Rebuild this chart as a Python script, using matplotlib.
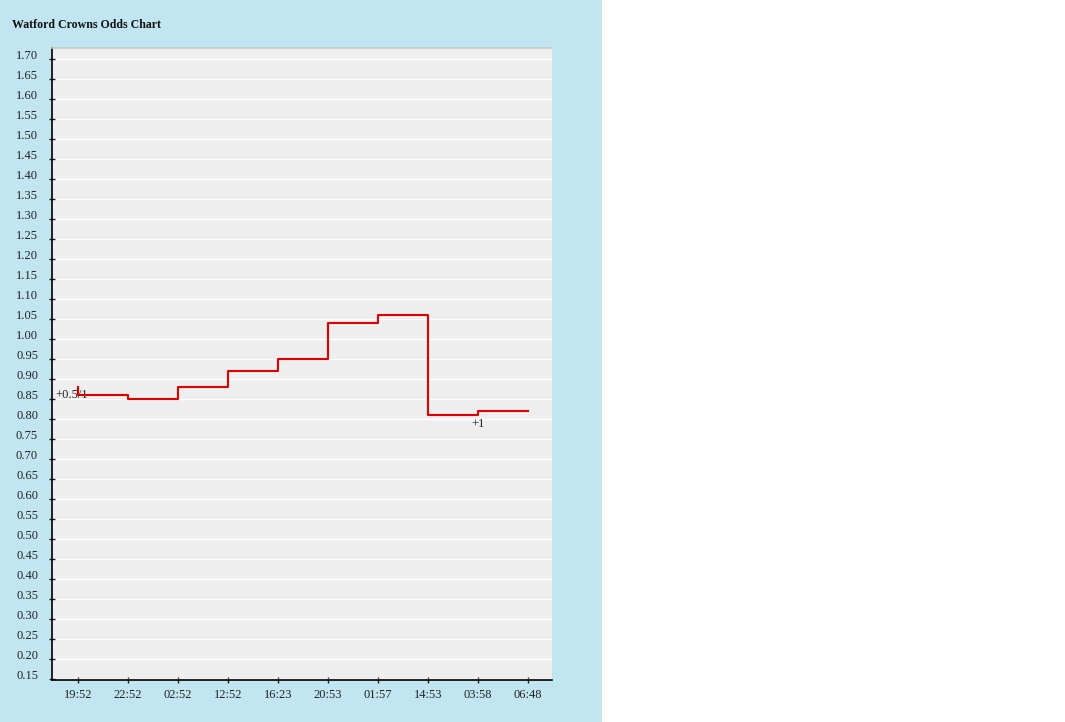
import matplotlib.pyplot as plt
import matplotlib.transforms as mtransforms
from matplotlib.patches import Rectangle

# odds chart data
times = ['19:52', '22:52', '02:52', '12:52', '16:23', '20:53', '01:57', '14:53', '03:58', '06:48']
odds = [0.86, 0.85, 0.88, 0.92, 0.95, 1.04, 1.06, 0.81, 0.82, 0.82]
opening_odds = 0.88
handicap_labels = ['+0.5/1', '+1']
handicap_idx = [0, 8]

yticks = [round(0.15 + 0.05 * i, 2) for i in range(32)]

plt.rcParams['font.family'] = ['Liberation Serif', 'DejaVu Serif']

W, H, DPI = 1065, 722, 100
fig = plt.figure(figsize=(W / DPI, H / DPI), dpi=DPI)
fig.patch.set_facecolor('white')

# light blue panel behind the chart
fig.patches.append(Rectangle((0, 0), 602 / W, 1, transform=fig.transFigure,
                             facecolor='#c1e6f1', edgecolor='none', zorder=-10))

ax = fig.add_axes([52 / W, 1 - 680 / H, 500 / W, 632 / H])
ax.set_zorder(1)
ax.set_facecolor('#eeeeee')

xs = list(range(len(times)))
ax.plot([xs[0]] + xs, [opening_odds] + odds, drawstyle='steps-post',
        color='#e00000', lw=1.5, zorder=3)

ax.set_xlim(-0.52, 9.48)
ax.set_ylim(0.1475, 1.7275)
ax.set_xticks(xs)
ax.set_xticklabels(times)
ax.set_yticks(yticks)
ax.set_yticklabels(['%.2f' % v for v in yticks])

ax.tick_params(axis='y', direction='inout', length=5, width=1, pad=7.5,
               labelsize=9, colors='#222222')
ax.tick_params(axis='x', direction='inout', length=5, width=1, pad=4,
               labelsize=9, colors='#222222')

# y labels sit a few pixels above their ticks in the original
shift = mtransforms.ScaledTranslation(0, 4.5 / DPI, fig.dpi_scale_trans)
for lab in ax.get_yticklabels():
    lab.set_transform(lab.get_transform() + shift)

ax.yaxis.grid(True, color='white', lw=1)
ax.set_axisbelow(True)

for side in ['left', 'bottom']:
    ax.spines[side].set_color('black')
    ax.spines[side].set_linewidth(1.2)
ax.spines['top'].set_color('#c8c8c8')
ax.spines['top'].set_linewidth(1.2)
ax.spines['right'].set_visible(False)

# handicap labels
ax.annotate(handicap_labels[0], (handicap_idx[0], odds[handicap_idx[0]]),
            xytext=(-16.5, 0), textcoords='offset points',
            ha='left', va='center', fontsize=9, color='#222222', zorder=2)
ax.annotate(handicap_labels[1], (handicap_idx[1], odds[handicap_idx[1]]),
            xytext=(0, -9.5), textcoords='offset points',
            ha='center', va='center', fontsize=9, color='#222222', zorder=2)

fig.text(12 / W, 1 - 25.5 / H, 'Watford Crowns Odds Chart', fontsize=8.6,
         fontweight='bold', ha='left', va='center', color='#111111')

fig.savefig('out.png', dpi=DPI, facecolor=fig.get_facecolor())
